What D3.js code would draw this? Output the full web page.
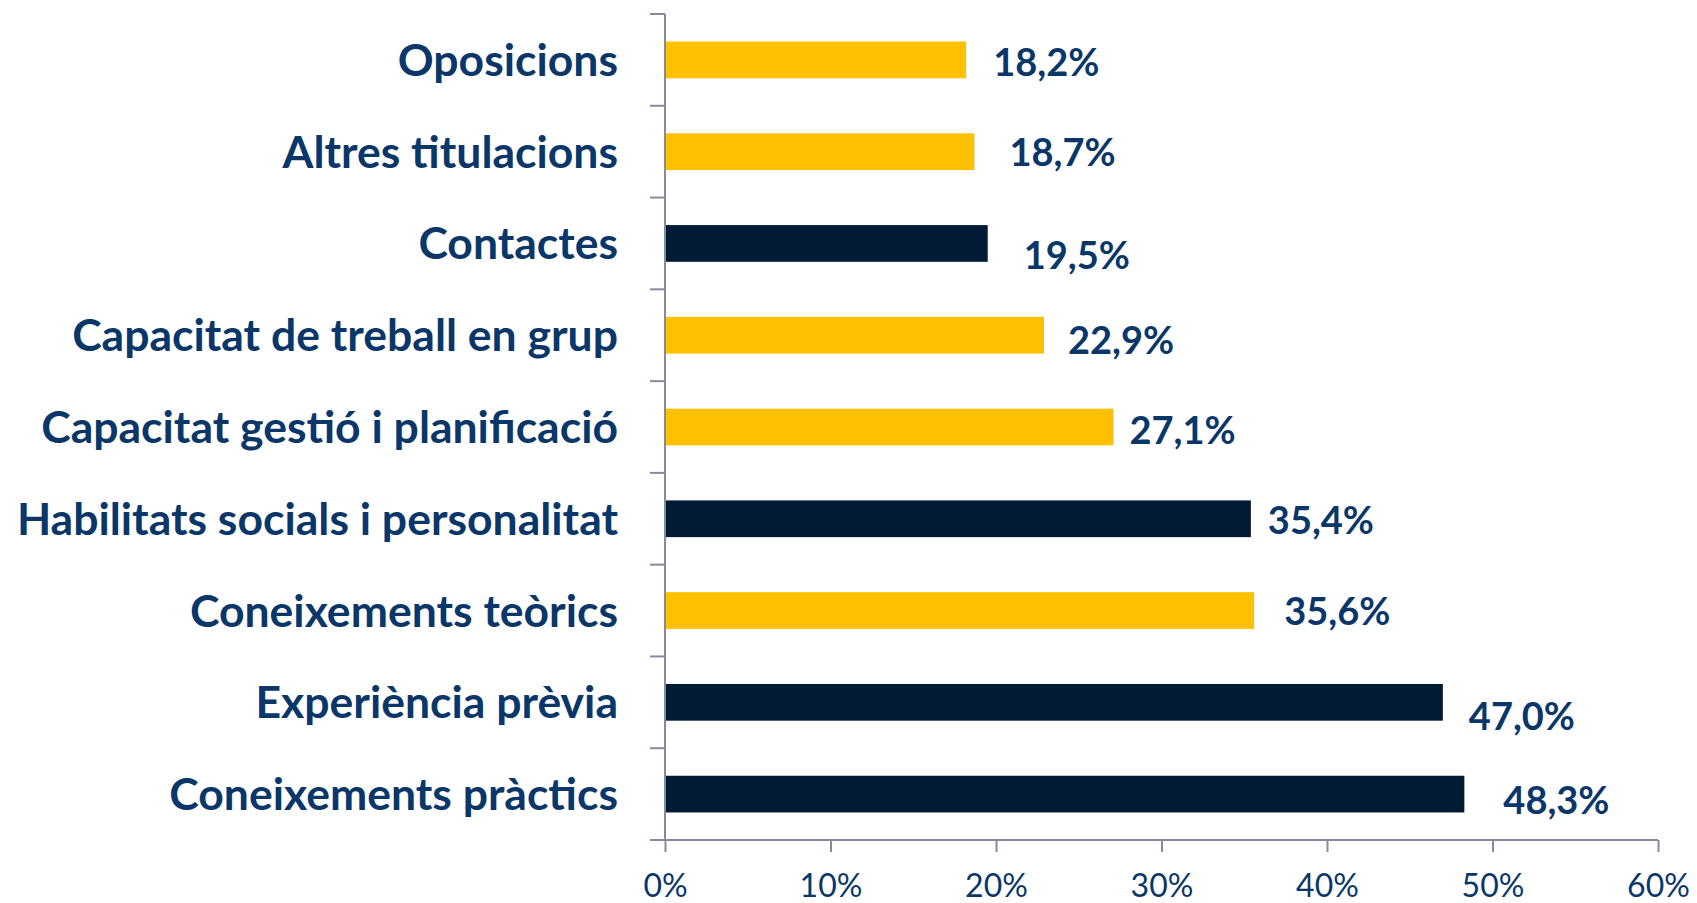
<!DOCTYPE html>
<html>
<head>
<meta charset="utf-8">
<script src="https://cdn.jsdelivr.net/npm/d3@7"></script>
<style>
  html, body { margin: 0; padding: 0; background: #fff; }
  svg { display: block; }
</style>
</head>
<body>
<svg id="chart" width="1697" height="903"></svg>
<script>
// categories, top to bottom
const categories = [
  'Oposicions',
  'Altres titulacions',
  'Contactes',
  'Capacitat de treball en grup',
  'Capacitat gestió i planificació',
  'Habilitats socials i personalitat',
  'Coneixements teòrics',
  'Experiència prèvia',
  'Coneixements pràctics'
]
const values = [18.2, 18.7, 19.5, 22.9, 27.1, 35.4, 35.6, 47.0, 48.3]
// 1 = dark bar, 0 = yellow bar
const dark = [0, 0, 1, 0, 0, 1, 0, 1, 1]
const xTicks = [0, 10, 20, 30, 40, 50, 60]
// hand placed labels in the original (px nudges)
const labelDx = [27, 35, 36, 24, 16, 17, 30, 26, 39]
const labelDy = [2, 1, 12, 5, 3, 2, 1, 14, 6]

const navy = '#0b3768'
const axisGray = '#878a9e'
const colors = { dark: '#011b34', light: '#ffc000' }

const svg = d3.select('#chart')
const margin = { top: 14, left: 665, right: 39, bottom: 63 }
const width = 1697 - margin.left - margin.right
const height = 903 - margin.top - margin.bottom

const x = d3.scaleLinear().domain([0, 60]).range([0, width])
const y = d3.scaleBand().domain(categories).range([0, height]).paddingInner(0.6).paddingOuter(0.3)

const g = svg.append('g').attr('transform', 'translate(' + margin.left + ',' + margin.top + ')')

// bars
g.selectAll('rect.bar').data(categories)
  .enter().append('rect')
  .attr('class', 'bar')
  .attr('x', 0)
  .attr('y', d => y(d))
  .attr('width', (d, i) => x(values[i]))
  .attr('height', y.bandwidth())
  .attr('fill', (d, i) => dark[i] ? colors.dark : colors.light)

// y axis: line + ticks between categories
const yBounds = d3.range(categories.length + 1).map(i => i * height / categories.length)
g.append('line')
  .attr('x1', 0).attr('x2', 0).attr('y1', 0).attr('y2', height)
  .attr('stroke', axisGray).attr('stroke-width', 2)
g.selectAll('line.ytick').data(yBounds)
  .enter().append('line')
  .attr('class', 'ytick')
  .attr('x1', -15).attr('x2', 0)
  .attr('y1', d => d).attr('y2', d => d)
  .attr('stroke', axisGray).attr('stroke-width', 2)

// category labels
g.selectAll('text.cat').data(categories)
  .enter().append('text')
  .attr('class', 'cat')
  .attr('x', -47)
  .attr('y', d => y(d) + y.bandwidth() / 2)
  .attr('dy', '0.36em')
  .attr('text-anchor', 'end')
  .attr('fill', navy)
  .style('font-family', 'Lato, "Open Sans", sans-serif')
  .style('font-weight', 700)
  .style('font-size', '44.5px')
  .text(d => d)

// value labels
g.selectAll('text.val').data(categories)
  .enter().append('text')
  .attr('class', 'val')
  .attr('x', (d, i) => x(values[i]) + labelDx[i])
  .attr('y', (d, i) => y(d) + y.bandwidth() / 2 + labelDy[i])
  .attr('dy', '0.36em')
  .attr('fill', navy)
  .style('font-family', 'Lato, "Open Sans", sans-serif')
  .style('font-weight', 700)
  .style('font-size', '38px')
  .text((d, i) => values[i].toFixed(1).replace('.', ',') + '%')

// x axis
const xAxis = g.append('g')
  .attr('transform', 'translate(0,' + height + ')')
  .call(d3.axisBottom(x).tickValues(xTicks).tickSize(12).tickPadding(22).tickFormat(d => d + '%'))
xAxis.select('.domain').remove()
xAxis.append('line')
  .attr('x1', -15).attr('x2', width).attr('y1', 0).attr('y2', 0)
  .attr('stroke', axisGray).attr('stroke-width', 2)
xAxis.selectAll('.tick line').attr('stroke', axisGray).attr('stroke-width', 2)
xAxis.selectAll('.tick text')
  .attr('fill', navy)
  .style('font-family', 'Lato, "Open Sans", sans-serif')
  .style('font-size', '32px')
</script>
</body>
</html>
